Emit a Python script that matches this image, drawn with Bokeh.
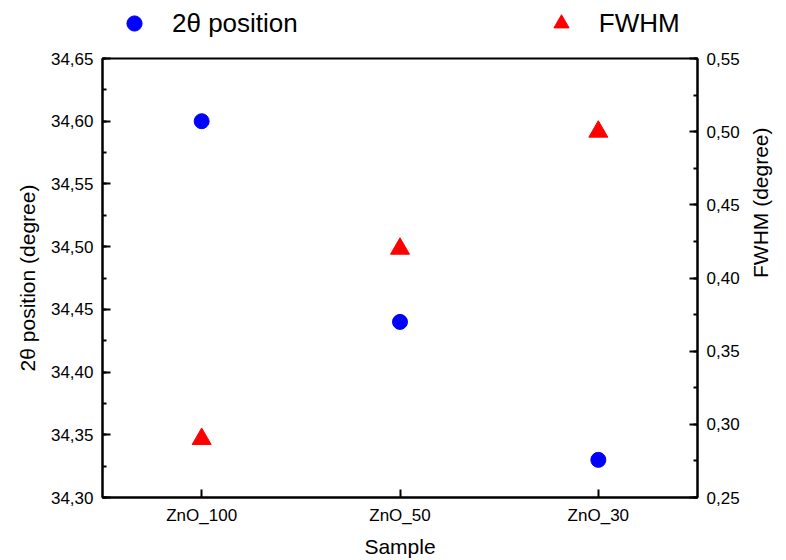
import math
from bokeh.plotting import figure
from bokeh.layouts import column
from bokeh.models import (Range1d, LinearAxis, SingleIntervalTicker, CustomJSTickFormatter,
                          Legend, LegendItem, ColumnDataSource, FactorRange)
from bokeh.embed import file_html
from bokeh.resources import INLINE

samples = ["ZnO_100", "ZnO_50", "ZnO_30"]
two_theta = [34.60, 34.44, 34.33]
fwhm = [0.29, 0.42, 0.50]

FONT = "Liberation Sans"
BLUE = "#0000ff"
RED = "#ff0000"

src = ColumnDataSource(dict(x=samples, tt=two_theta, fw=fwhm))

# ---- main chart ----
p = figure(width=786, height=514, output_backend="svg", toolbar_location=None,
           x_range=FactorRange(factors=samples), y_range=Range1d(34.30, 34.65),
           min_border_left=102, min_border_right=87, min_border_top=12, min_border_bottom=63)
p.extra_y_ranges = {"fwhm": Range1d(0.25, 0.55)}

p.xgrid.grid_line_color = None
p.ygrid.grid_line_color = None
p.outline_line_color = "black"
p.outline_line_width = 2
p.outline_line_alpha = 1

fmt = CustomJSTickFormatter(code="return tick.toFixed(2).replace('.', ',');")

p.scatter("x", "tt", source=src, marker="circle", size=15, color=BLUE)
p.scatter("x", "fw", source=src, marker="triangle", size=19, color=RED, y_range_name="fwhm")

right = LinearAxis(y_range_name="fwhm", axis_label="FWHM (degree)")
p.add_layout(right, "right")

for ax in [p.yaxis[0], right]:
    ax.ticker = SingleIntervalTicker(interval=0.05, num_minor_ticks=2)
    ax.formatter = fmt

for ax in p.axis:
    ax.axis_line_width = 2
    ax.axis_line_color = "black"
    ax.major_tick_line_width = 2
    ax.minor_tick_line_width = 2
    ax.major_tick_in = 8
    ax.major_tick_out = 0
    ax.minor_tick_in = 4
    ax.minor_tick_out = 0
    ax.major_label_text_font = FONT
    ax.major_label_text_font_size = "17px"
    ax.major_label_text_color = "black"
    ax.axis_label_text_font = FONT
    ax.axis_label_text_font_size = "21px"
    ax.axis_label_text_font_style = "normal"
    ax.axis_label_text_color = "black"
    ax.major_label_standoff = 9
    ax.axis_label_standoff = 8

p.xaxis.axis_label = "Sample"
p.xaxis.major_label_standoff = 8
p.xaxis.axis_label_standoff = 7
p.yaxis[0].axis_label = "2\u03b8 position (degree)"
p.yaxis[0].axis_label_standoff = 9
right.axis_label_standoff = 18
if "axis_label_orientation" in LinearAxis.properties():
    right.axis_label_orientation = math.pi / 2
    right.axis_label_text_align = "center"

# ---- legend strip above the chart ----
lg = figure(width=786, height=46, output_backend="svg", toolbar_location=None,
            x_range=FactorRange(factors=samples), y_range=Range1d(0, 1),
            x_axis_type=None, y_axis_type=None, min_border=0)
lg.outline_line_color = None
lg.xgrid.grid_line_color = None
lg.ygrid.grid_line_color = None
l1 = lg.scatter("x", "tt", source=src, marker="circle", size=15, color=BLUE, visible=False)
l2 = lg.scatter("x", "fw", source=src, marker="triangle", size=19, color=RED, visible=False)

legend = Legend(items=[LegendItem(label="2\u03b8 position", renderers=[l1]),
                       LegendItem(label="FWHM", renderers=[l2])],
                orientation="horizontal", location=(13, 4), spacing=244,
                label_text_font=FONT, label_text_font_size="26px", label_text_color="black",
                border_line_color=None, background_fill_alpha=0, inactive_fill_alpha=0,
                padding=0, margin=0, glyph_width=38, glyph_height=38, label_standoff=19)
lg.add_layout(legend, "center")

layout = column(lg, p, spacing=0)
open("out.html", "w").write(file_html(layout, INLINE))
